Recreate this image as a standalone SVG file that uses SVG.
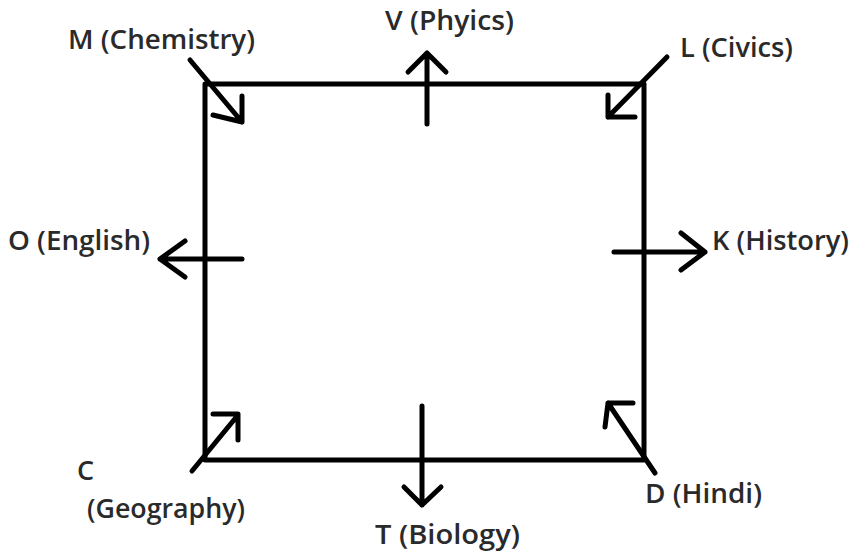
<svg xmlns="http://www.w3.org/2000/svg" width="855" height="558" viewBox="0 0 855 558">
<style>
.ln{stroke:#000;stroke-width:5;fill:none;stroke-linecap:round;stroke-linejoin:round}
.lb{font-family:"Open Sans","Liberation Sans",sans-serif;font-weight:600;font-size:27px;fill:#2a2a2a}
</style>
<rect width="855" height="558" fill="#fff"/>
<g id="square"><rect class="ln" x="205" y="84" width="439" height="376" stroke-linecap="square"/></g>
<g id="connectors">
<path class="ln" d="M190,60 L242,122 M242,96 L242,122 L213,115"/>
<path class="ln" d="M667,57 L608,117 M608,95 L608,117 L635,117"/>
<path class="ln" d="M192,471 L238,415 M213,414 L238,414 L238,440"/>
<path class="ln" d="M655,473 L608,403 M633,403 L608,403 L605,427"/>
<path class="ln" d="M427,124 L427,53 M408,72 L427,53 L446,72"/>
<path class="ln" d="M422,406 L422,505 M404,487 L422,505 L441,487"/>
<path class="ln" d="M242,259 L160,259 M185,241 L160,259 L185,277"/>
<path class="ln" d="M614,252 L705,252 M681,233 L705,252 L681,270"/>
</g>
<g id="M"><text class="lb" x="68" y="49" textLength="187" lengthAdjust="spacingAndGlyphs">M (Chemistry)</text></g>
<g id="V"><text class="lb" x="385" y="30" textLength="129" lengthAdjust="spacingAndGlyphs">V (Phyics)</text></g>
<g id="L"><text class="lb" x="680" y="57" textLength="113" lengthAdjust="spacingAndGlyphs">L (Civics)</text></g>
<g id="O"><text class="lb" x="8" y="250" textLength="142" lengthAdjust="spacingAndGlyphs">O (English)</text></g>
<g id="K"><text class="lb" x="712" y="250" textLength="137" lengthAdjust="spacingAndGlyphs">K (History)</text></g>
<g id="C"><text class="lb" x="77" y="480">C</text><text class="lb" x="87" y="518" textLength="158" lengthAdjust="spacingAndGlyphs">(Geography)</text></g>
<g id="D"><text class="lb" x="645" y="503" textLength="117" lengthAdjust="spacingAndGlyphs">D (Hindi)</text></g>
<g id="T"><text class="lb" x="375" y="544" textLength="145" lengthAdjust="spacingAndGlyphs">T (Biology)</text></g>
</svg>
